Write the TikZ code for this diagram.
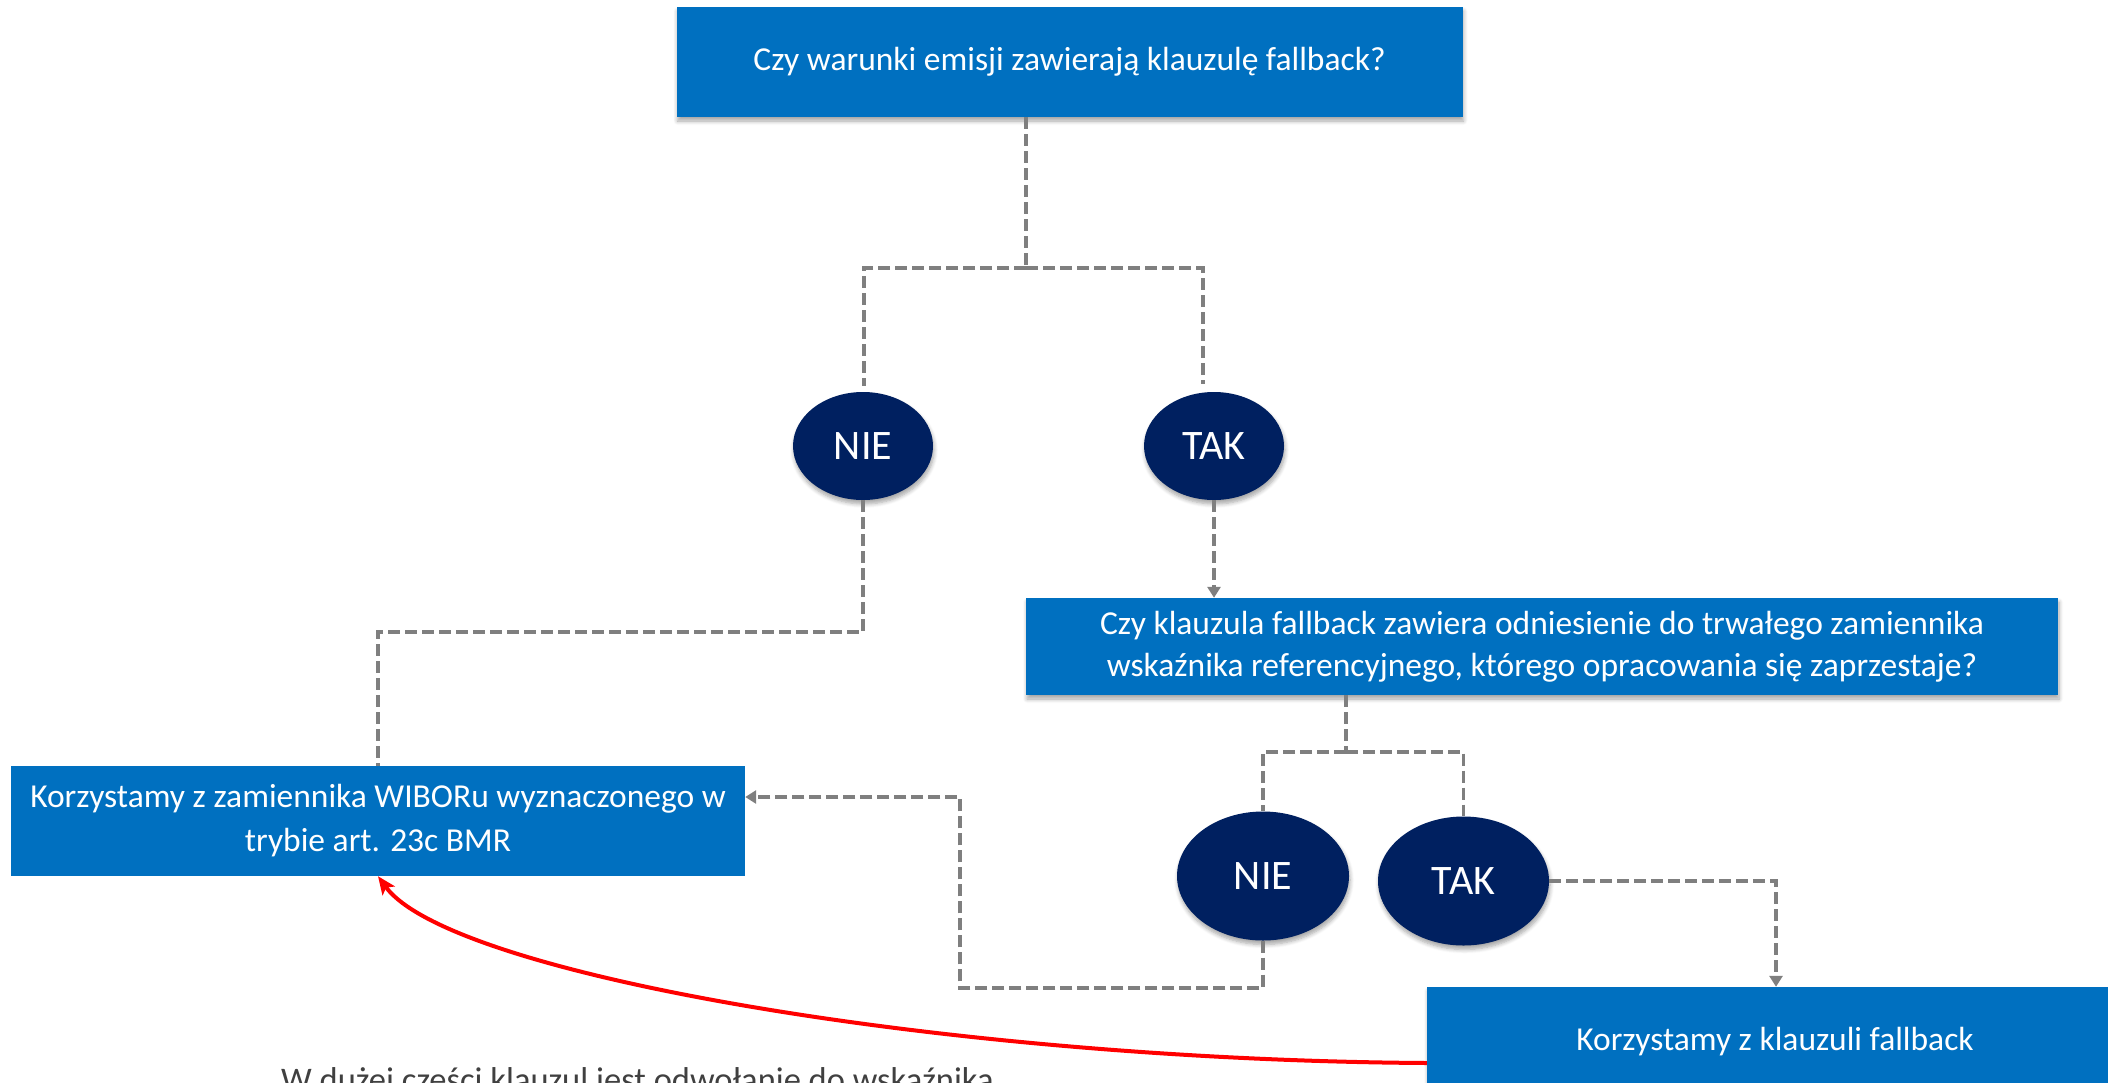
\documentclass[tikz,border=0pt]{standalone}
\usepackage{fontspec}
\setmainfont{Carlito}
\usetikzlibrary{arrows.meta,shapes.geometric,shadows.blur}
\definecolor{boxblue}{HTML}{0070C0}
\definecolor{navy}{HTML}{002060}
\definecolor{conngray}{HTML}{7F7F7F}
\definecolor{txtgray}{HTML}{404040}
\tikzset{
  qbox/.style={fill=boxblue, text=white, inner sep=0pt, align=center,
    font=\fontsize{33.5}{42}\selectfont},
  shad/.style={blur shadow={shadow xshift=1pt, shadow yshift=-4pt,
    shadow blur radius=4pt, shadow blur steps=6, shadow opacity=35}},
  answer/.style={ellipse, fill=navy, text=white, inner sep=0pt,
    font=\fontsize{42}{50}\selectfont},
  conn/.style={draw=conngray, line width=3.5pt, dash pattern=on 12pt off 5pt},
  connarr/.style={conn, -{Triangle[width=13pt,length=11pt]}},
  redarr/.style={draw=red, line width=4pt, -{Stealth[length=18pt,width=15pt,inset=4pt]}}
}
\begin{document}
\begin{tikzpicture}[x=1pt,y=-1pt]
\useasboundingbox (0,0) rectangle (2108,1082);
% boxes
\node[qbox, shad, minimum width=786pt, minimum height=110pt] (b1) at (1069.5,62)
  {Czy warunki emisji zawierają klauzulę fallback?};
\node[qbox, shad, minimum width=1032pt, minimum height=97pt] (b2) at (1542,646.5)
  {Czy klauzula fallback zawiera odniesienie do trwałego zamiennika\\wskaźnika referencyjnego, którego opracowania się zaprzestaje?};
\node[qbox, minimum width=734pt, minimum height=110pt, font=\fontsize{33.5}{44}\selectfont] (b3) at (378,821)
  {Korzystamy z zamiennika WIBORu wyznaczonego w\\trybie art. 23c BMR};
\node[qbox, shad, minimum width=696pt, minimum height=110pt] (b4) at (1775,1042)
  {Korzystamy z klauzuli fallback};
% answers
\node[answer, shad, minimum width=140pt, minimum height=108pt] (n1) at (863,446) {NIE};
\node[answer, shad, minimum width=140pt, minimum height=108pt] (t1) at (1214,446) {TAK};
\node[answer, shad, minimum width=172pt, minimum height=129pt] (n2) at (1263,876) {NIE};
\node[answer, shad, minimum width=171pt, minimum height=129pt] (t2) at (1463.5,881) {TAK};
% junctions
\coordinate (j1) at (1026,268);
\coordinate (a1) at (864,268);
\coordinate (a2) at (1203,268);
\coordinate (j2) at (1346,752);
\coordinate (k1) at (960,988);
\coordinate (k2) at (960,797);
\coordinate (k3) at (863,632);
\coordinate (k4) at (1776,881);
% connectors
\draw[conn] (j1 |- b1.south) -- (j1);
\draw[conn, shorten >=6pt] (j1) -- (a1) -- (a1 |- n1.north);
\draw[conn, shorten >=8pt] (j1) -- (a2) -- (a2 |- t1.north);
\draw[conn] (n1.south) -- (k3) -- (k3 -| b3.north) -- (b3.north);
\draw[connarr] (t1.south) -- (t1.south |- b2.north);
\draw[conn] (j2 |- b2.south) -- (j2);
\draw[conn] (j2) -- (j2 -| n2.north) -- (n2.north);
\draw[conn] (j2) -- (j2 -| t2.north) -- (t2.north);
\draw[connarr] (n2.south) -- (n2.south |- k1) -- (k1) -- (k2) -- (k2 -| b3.east);
\draw[connarr] (t2.east) -- (k4) -- (k4 |- b4.north);
% red curve
\draw[redarr] ([yshift=-21pt]b4.west) .. controls (950,1060) and (450,975) .. (b3.south);
% cut-off note
\node[anchor=base west, inner sep=0pt, text=txtgray, font=\fontsize{34.5}{42}\selectfont] (note) at (281,1091)
  {W dużej części klauzul jest odwołanie do wskaźnika};
\end{tikzpicture}
\end{document}
